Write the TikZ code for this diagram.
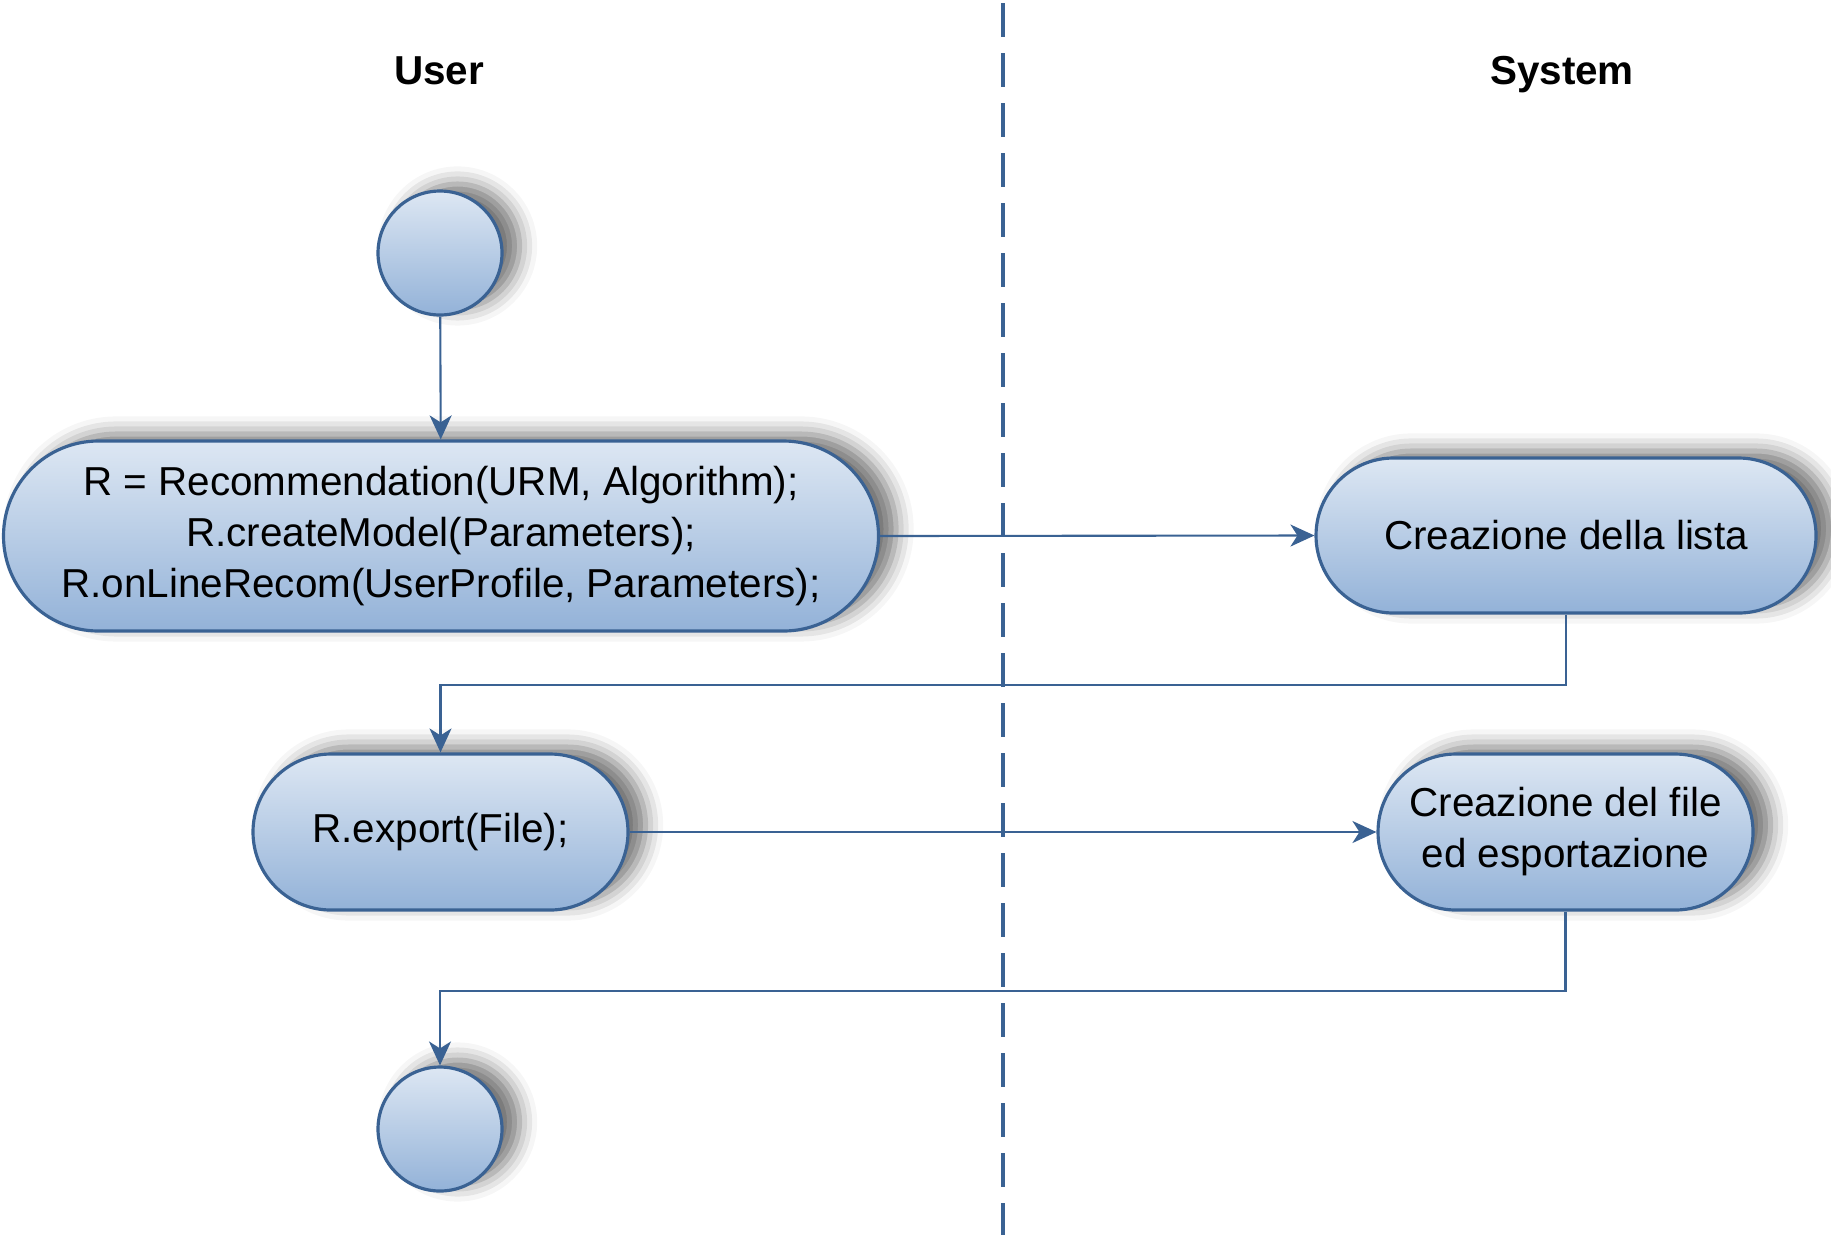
\documentclass[tikz,border=0pt]{standalone}
\usepackage{fontspec}
\setmainfont{Liberation Sans}
\usetikzlibrary{shapes.misc,shadows.blur,arrows.meta}
\definecolor{actline}{HTML}{3A6293}
\definecolor{acttop}{HTML}{DDE7F3}
\definecolor{actbottom}{HTML}{93B2D8}

\tikzset{
  actshadow/.style={blur shadow={shadow xshift=5pt,shadow yshift=2pt,shadow blur radius=5pt,shadow opacity=55}},
  activity/.style={rounded rectangle,draw=actline,line width=0.9pt,top color=acttop,bottom color=actbottom,
    align=center,inner sep=0pt,font=\fontsize{11.5}{14.5}\selectfont,actshadow},
  terminal/.style={circle,draw=actline,line width=0.9pt,top color=acttop,bottom color=actbottom,
    minimum size=1.24cm,inner sep=0pt,actshadow},
  flow/.style={draw=actline,line width=0.6pt,-{Stealth[length=0.24cm,width=0.22cm,inset=0.07cm]}},
  lane/.style={draw=actline,line width=0.95pt,dash pattern=on 0.34cm off 0.16cm},
  lanetitle/.style={anchor=base,font=\fontsize{11.5}{14}\selectfont\bfseries}
}

\begin{document}
\begin{tikzpicture}[x=1cm,y=1cm]
  \useasboundingbox (0,0) rectangle (18.31,-12.35);
  % swimlanes
  \coordinate (lanetop) at (10.03,-0.03);
  \coordinate (lanebot) at (10.03,-12.35);
  \draw[lane] (lanetop) -- (lanebot);
  \node[lanetitle] (user) at (4.39,-0.84) {User};
  \node[lanetitle] (system) at (15.62,-0.84) {System};
  % activities
  \node[terminal] (start) at (4.40,-2.53) {};
  \node[activity,minimum width=8.75cm,minimum height=1.90cm] (recom) at (4.41,-5.36)
    {R = Recommendation(URM, Algorithm);\\R.createModel(Parameters);\\R.onLineRecom(UserProfile, Parameters);};
  \node[activity,minimum width=5.00cm,minimum height=1.55cm] (lista) at (15.66,-5.355) {Creazione della lista};
  \node[activity,minimum width=3.75cm,minimum height=1.56cm] (export) at (4.405,-8.32) {R.export(File);};
  \node[activity,minimum width=3.75cm,minimum height=1.56cm] (file) at (15.655,-8.32) {Creazione del file\\ed esportazione};
  \node[terminal] (stop) at (4.40,-11.29) {};
  % flows
  \draw[flow] (start) -- (recom);
  \draw[flow] (recom.east) -- (lista.west);
  \draw[flow] (lista.south) -- ++(0,-0.70) -| (export.north);
  \draw[flow] (export.east) -- (file.west);
  \draw[flow] (file.south) -- ++(0,-0.79) -| (stop.north);
\end{tikzpicture}
\end{document}
